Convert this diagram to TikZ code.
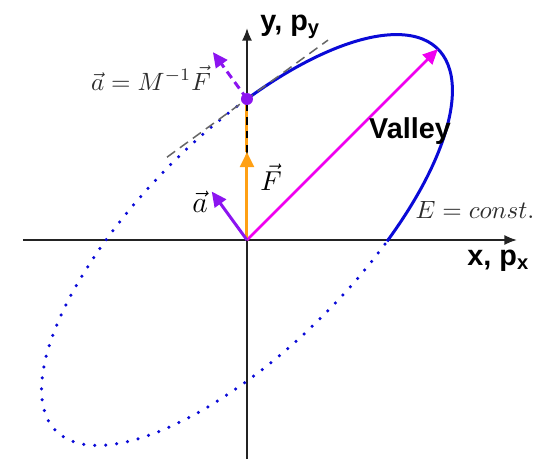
\documentclass[tikz,border=0pt]{standalone}
\usepackage{amsmath}
\usepackage{fontspec}
\setsansfont{Liberation Sans}
\usepackage{xcolor}
\usetikzlibrary{arrows.meta,positioning,calc}
\definecolor{axisgray}{RGB}{35,35,35}
\definecolor{orbitblue}{RGB}{10,10,215}
\definecolor{valleymag}{RGB}{240,0,240}
\definecolor{forceorange}{RGB}{255,160,20}
\definecolor{accpurple}{RGB}{140,20,240}
\definecolor{labelgray}{RGB}{45,45,45}
\tikzset{
  axisline/.style={
    draw=axisgray,
    line width=0.8pt,
    -{Latex[length=5pt,width=4pt]}
  },
  orbitsolid/.style={draw=orbitblue, line width=1.2pt},
  orbitdotted/.style={
    draw=orbitblue,
    line width=1.4pt,
    line cap=round,
    dash pattern=on 0pt off 4.4pt
  },
  vecarrow/.style={line width=1.2pt, -{Triangle[length=6pt,width=5.5pt]}},
  axislabel/.style={font=\sffamily\bfseries\fontsize{11.5}{13}\selectfont, inner sep=0pt},
  mathlabel/.style={text=labelgray, inner sep=0pt}
}

\begin{document}
\begin{tikzpicture}[x=0.4pt,y=0.4pt]
  \useasboundingbox (-247,-221) rectangle (301,240);
  % axes
  \coordinate (xl) at (-224,0);
  \coordinate (xr) at (270,0);
  \coordinate (yb) at (0,-219);
  \coordinate (yt) at (0,212);
  \draw[axisline] (xl) -- (xr);
  \draw[axisline] (yb) -- (yt);
  % energy contour
  \begin{scope}[rotate=45]
    \draw[orbitsolid] (-68.7:270 and 107.3)
      arc[start angle=-68.7, end angle=68.7, x radius=270, y radius=107.3];
    \draw[orbitdotted] (68.7:270 and 107.3)
      arc[start angle=68.7, end angle=291.3, x radius=270, y radius=107.3];
  \end{scope}
  \coordinate (O) at (0,0);
  \coordinate (P) at (0,141);
  \coordinate (Fend) at (0,88);
  \coordinate (Vend) at (190.9,190.9);
  \coordinate (aend) at (-35.3,48.5);
  \coordinate (Ptip) at (-34.1,187.9);
  \coordinate (T1) at (-80,82.8);
  \coordinate (T2) at (81,199.9);
  % tangent
  \draw[gray!80!black, line width=0.6pt, dash pattern=on 4pt off 2.4pt] (T1) -- (T2);
  % vectors
  \draw[vecarrow, valleymag, line width=1pt] (O) -- (Vend);
  \draw[vecarrow, forceorange] (O) -- (Fend);
  \draw[forceorange, line width=1.2pt] (Fend) -- (P);
  \draw[black, line width=0.5pt, dash pattern=on 3pt off 2.5pt] (Fend) -- (P);
  \draw[vecarrow, accpurple] (O) -- (aend);
  \draw[vecarrow, accpurple, dash pattern=on 3.2pt off 2pt] (P) -- (Ptip);
  \fill[accpurple] (P) circle (2.4pt);
  % labels
  \node[mathlabel, anchor=base] (acclabel) at (-96,150) {$\vec a = M^{-1}\vec F$};
  \node[mathlabel, anchor=base] (energy) at (228,22) {$E = const.$};
  \node[anchor=base, inner sep=0pt, font=\fontsize{11}{13}\selectfont] (flabel) at (24,50) {$\vec F$};
  \node[anchor=base, inner sep=0pt, font=\fontsize{11.5}{13}\selectfont] (alabel) at (-47,28) {$\vec a$};
  \node[axislabel, anchor=base] (valley) at (163,102) {Valley};
  \node[axislabel, anchor=base west] (ylabel) at (13,210) {y, p\textsubscript{y}};
  \node[axislabel, anchor=base west] (xlabel) at (220,-25) {x, p\textsubscript{x}};
\end{tikzpicture}
\end{document}
